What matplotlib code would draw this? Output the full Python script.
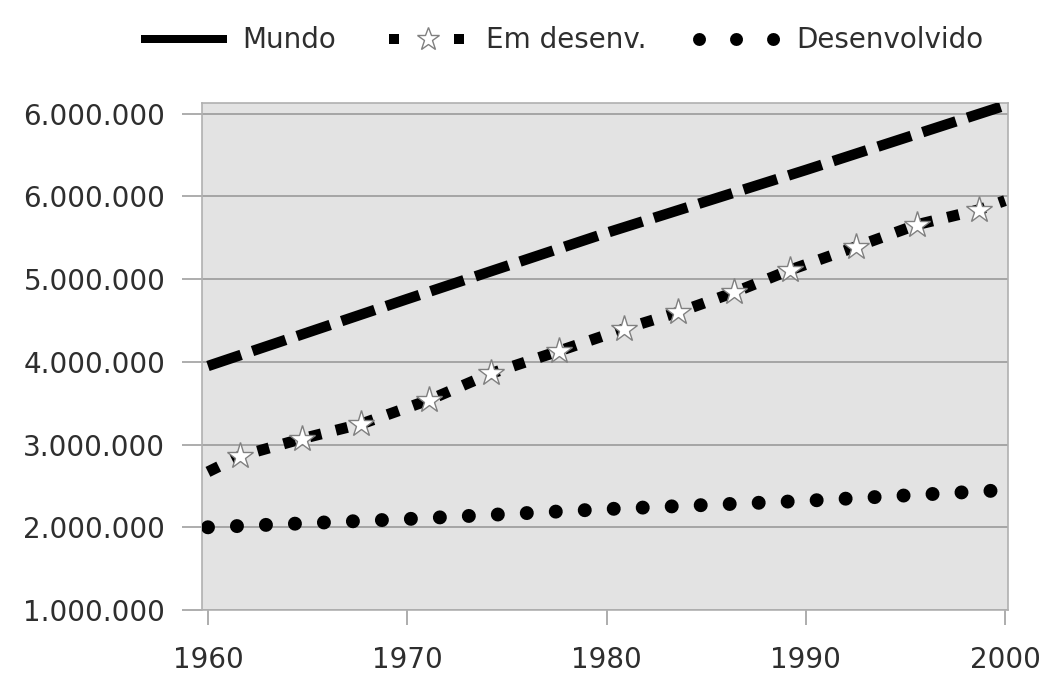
import matplotlib
matplotlib.use("Agg")
import matplotlib.pyplot as plt
from matplotlib.lines import Line2D

# ---- data ----
mundo_years = [1960, 1970, 1980, 1990, 2000]
mundo_vals = [3950000, 4760000, 5560000, 6320000, 7100000]

em_years = [1960, 1961.6, 1964.7, 1967.7, 1971.1, 1974.2, 1977.6, 1980.9,
            1983.6, 1986.4, 1989.2, 1992.5, 1995.6, 1998.7, 2000]
em_vals = [2670000, 2860000, 3070000, 3250000, 3540000, 3860000, 4130000, 4400000,
           4600000, 4840000, 5110000, 5390000, 5660000, 5840000, 5950000]

dev_years = [1960, 1970, 1980, 1990, 2000]
dev_vals = [2000000, 2100000, 2220000, 2320000, 2450000]

y_ticks = [1000000, 2000000, 3000000, 4000000, 5000000, 6000000, 7000000]
y_labels = ["1.000.000", "2.000.000", "3.000.000", "4.000.000",
            "5.000.000", "6.000.000", "6.000.000"]
x_ticks = [1960, 1970, 1980, 1990, 2000]
x_labels = ["1960", "1970", "1980", "1990", "2000"]
series_names = ["Mundo", "Em desenv.", "Desenvolvido"]

plt.rcParams['font.family'] = ['DejaVu Sans']
DPI = 100
fig = plt.figure(figsize=(10.39, 6.75), dpi=DPI)
ax = fig.add_axes([0.1944, 0.0963, 0.9702 - 0.1944, 0.8474 - 0.0963])
ax.set_facecolor('#e3e3e3')

px = 72.0 / DPI  # points per pixel
FS = 20
TXT = '#2e2e2e'

# Mundo: long dashes
ax.plot(mundo_years, mundo_vals, color='black', linewidth=10.5 * px,
        dashes=(35 / 10.5, 12 / 10.5), dash_capstyle='butt', zorder=3)

# Em desenv.: square dots with star markers
ax.plot(em_years, em_vals, color='black', linewidth=11 * px,
        dashes=(12 / 11, 15 / 11), dash_capstyle='butt', zorder=3)
ax.plot(em_years[1:-1], em_vals[1:-1], linestyle='none', marker='*',
        markersize=28 * px, markerfacecolor='white', markeredgecolor='#808080',
        markeredgewidth=1.0, zorder=4)

# Desenvolvido: round dots
ax.plot(dev_years, dev_vals, color='black', linewidth=14 * px,
        dashes=(0.001, 29 / 14), dash_capstyle='round', zorder=3)

ax.set_xlim(1959.7, 2000.15)
ax.set_ylim(1000000, 7130000)
ax.set_yticks(y_ticks)
ax.set_yticklabels(y_labels)
ax.set_xticks(x_ticks)
ax.set_xticklabels(x_labels)
ax.yaxis.grid(True, color='#9a9a9a', linewidth=1.2)
ax.set_axisbelow(True)
for s in ax.spines.values():
    s.set_color('#b0b0b0')
    s.set_linewidth(1.2)
ax.tick_params(axis='y', length=20 * px, color='#a0a0a0', width=1.2,
               labelsize=FS, labelcolor=TXT, pad=12)
ax.tick_params(axis='x', length=15 * px, color='#a0a0a0', width=1.2,
               labelsize=FS, labelcolor=TXT, pad=15)

# legend
h1 = Line2D([0], [0], color='black', linewidth=8 * px)
h2 = Line2D([0], [0], color='black', linewidth=10 * px, dashes=(1.0, 5.5),
            dash_capstyle='butt', marker='*', markersize=24 * px,
            markerfacecolor='white', markeredgecolor='#808080', markeredgewidth=1.0)
h3 = Line2D([0], [0], color='black', linewidth=13 * px, dashes=(0.001, 37 / 13),
            dash_capstyle='round')
fig.legend([h1, h2, h3], series_names, loc='center', bbox_to_anchor=(0.543, 0.94),
           ncol=3, frameon=False, fontsize=FS, handlelength=2.8,
           handletextpad=0.7, columnspacing=1.9, numpoints=1,
           labelcolor=TXT)

fig.savefig('out.png', dpi=DPI)
